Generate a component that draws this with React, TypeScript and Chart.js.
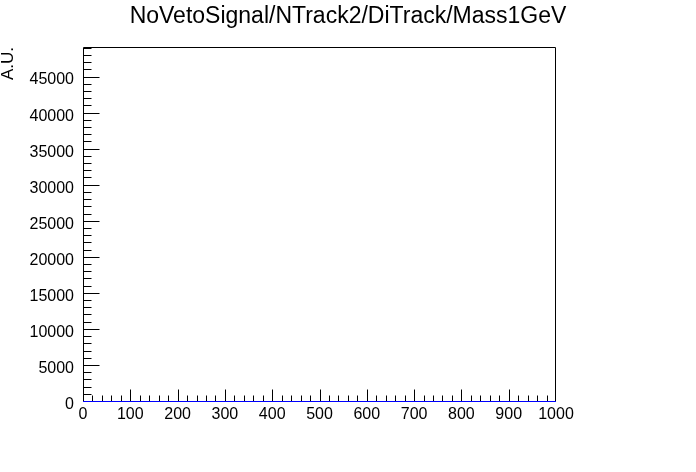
import React, { useEffect, useRef } from "react";
import { Chart, registerables } from "chart.js";

Chart.register(...registerables);

const titleText = "NoVetoSignal/NTrack2/DiTrack/Mass1GeV";
const yAxisTitle = "A.U.";
const binEdges = [0, 1000];
const binValues = [0, 0];
const xMin = 0;
const xMax = 1000;
const yMin = 0;
const yMax = 49167;
const xTickValues = [0, 100, 200, 300, 400, 500, 600, 700, 800, 900, 1000];
const yTickValues = [0, 5000, 10000, 15000, 20000, 25000, 30000, 35000, 40000, 45000];
const xMinorStep = 20;
const yMinorStep = 1000;

const FONT = "'Liberation Sans', Arial, Helvetica, sans-serif";

const rootPlugin = {
  id: "rootStyle",
  beforeDatasetsDraw(chart: any) {
    const ctx = chart.ctx;
    const { left, right, top, bottom } = chart.chartArea;
    const xs = chart.scales.x;
    const ys = chart.scales.y;
    const L = Math.round(left) + 0.5;
    const R = Math.round(right) - 0.5;
    const T = Math.round(top) + 0.5;
    const B = bottom;
    ctx.save();
    ctx.strokeStyle = "#000";
    ctx.lineWidth = 1;
    ctx.beginPath();
    ctx.moveTo(L, B);
    ctx.lineTo(L, T);
    ctx.lineTo(R, T);
    ctx.lineTo(R, B);
    ctx.stroke();
    // x ticks (inward), the end ticks coincide with the frame
    for (let v = xMin + xMinorStep; v < xMax - 1e-9; v += xMinorStep) {
      const px = Math.round(xs.getPixelForValue(v)) + 0.5;
      const major = xTickValues.includes(v);
      const len = major ? 12 : 6;
      ctx.beginPath();
      ctx.moveTo(px, B);
      ctx.lineTo(px, B - len);
      ctx.stroke();
    }
    // y ticks (inward)
    for (let v = yMin + yMinorStep; v <= yMax; v += yMinorStep) {
      const py = Math.floor(ys.getPixelForValue(v)) + 0.5;
      const major = yTickValues.includes(v);
      const len = major ? 16 : 8;
      ctx.beginPath();
      ctx.moveTo(L, py);
      ctx.lineTo(L + len, py);
      ctx.stroke();
    }
    ctx.restore();
  },
  afterDraw(chart: any) {
    const ctx = chart.ctx;
    const { top } = chart.chartArea;
    ctx.save();
    ctx.fillStyle = "#000";
    ctx.font = `23px ${FONT}`;
    ctx.textAlign = "center";
    ctx.textBaseline = "middle";
    ctx.fillText(titleText, chart.width / 2, 17);
    ctx.translate(8, Math.round(top));
    ctx.rotate(-Math.PI / 2);
    ctx.font = `17px ${FONT}`;
    ctx.textAlign = "right";
    ctx.textBaseline = "middle";
    ctx.fillText(yAxisTitle, 0, 0);
    ctx.restore();
  },
};

export default function App() {
  const ref = useRef<HTMLCanvasElement | null>(null);
  useEffect(() => {
    document.body.style.margin = "0";
    const canvas = ref.current!;
    const chart = new Chart(canvas, {
      type: "line",
      data: {
        datasets: [
          {
            data: binEdges.map((x, i) => ({ x, y: binValues[i] })),
            borderColor: "#0000ff",
            borderWidth: 1,
            pointRadius: 0,
            stepped: true,
            fill: false,
            clip: false,
          },
        ],
      },
      options: {
        animation: false,
        responsive: false,
        devicePixelRatio: 1,
        layout: { padding: { top: 47, right: 140, left: 0, bottom: 0 } },
        plugins: { legend: { display: false }, tooltip: { enabled: false }, title: { display: false } },
        scales: {
          x: {
            type: "linear",
            min: xMin,
            max: xMax,
            border: { display: false },
            grid: { display: false, drawTicks: false },
            afterBuildTicks: (s: any) => {
              s.ticks = xTickValues.map((value) => ({ value }));
            },
            ticks: {
              autoSkip: false,
              maxRotation: 0,
              padding: 3,
              color: "#000",
              font: { family: FONT, size: 16 },
              callback: (v: any) => String(v),
            },
            afterFit: (s: any) => {
              s.height = 70.5;
            },
          },
          y: {
            type: "linear",
            min: yMin,
            max: yMax,
            border: { display: false },
            grid: { display: false, drawTicks: false },
            afterBuildTicks: (s: any) => {
              s.ticks = yTickValues.map((value) => ({ value }));
            },
            ticks: {
              autoSkip: false,
              padding: 9,
              labelOffset: 3,
              color: "#000",
              font: { family: FONT, size: 16 },
              callback: (v: any) => String(v),
            },
            afterFit: (s: any) => {
              s.width = 83;
            },
          },
        },
      },
      plugins: [rootPlugin],
    } as any);
    return () => chart.destroy();
  }, []);
  return <canvas ref={ref} width={696} height={472} style={{ display: "block", width: 696, height: 472 }} />;
}
